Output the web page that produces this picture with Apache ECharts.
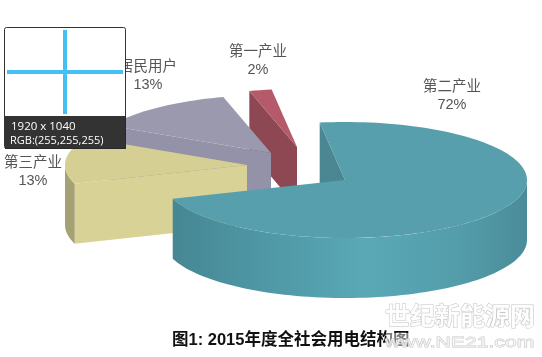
<!DOCTYPE html>
<html><head><meta charset="utf-8">
<style>html,body{margin:0;padding:0;background:#fff}#c{width:542px;height:357px}</style>
<script src="https://cdn.jsdelivr.net/npm/echarts@6/dist/echarts.min.js"></script>
</head><body><div id="c"></div>
<script>
// data: counter-clockwise from the start angle, in paint order (back to front)
const categories = ['第一产业', '居民用户', '第三产业', '第二产业'];
const shares = [2, 13, 13, 72];
const titleText = '图1: 2015年度全社会用电结构图';

// layout (not data)
const START = 98, RX = 182, RY = 58, DEPTH = 60;
const apex = [[297,147],[271,153],[247,165],[345,180]];
const labelAt = [[258,61],[148,76],[33,172],[452,96]];
const palette = [
  {top:'#b55a6b', wall:'#8e4854', arc:'#8e4854'},
  {top:'#9b99ae', wall:'#9492a9', arc:'#9492a9'},
  {top:'#d5cf94', wall:'#d8d296', arc:'#a5a173'},
  {top:'#589fad', wall:'#4a8792', arc:null}
];
const tealSide = {type:'linear',x:0,y:0,x2:1,y2:0,colorStops:[
  {offset:0,color:'#468793'},{offset:.25,color:'#4f97a5'},{offset:.55,color:'#5aa8b6'},
  {offset:.8,color:'#549dab'},{offset:1,color:'#4b8c99'}]};

const total = shares.reduce((a,b)=>a+b,0);
const rad = d=>d*Math.PI/180;
function pt(c,a,dy){return [c[0]+RX*Math.cos(rad(a)), c[1]-RY*Math.sin(rad(a))+(dy||0)];}
function arc(c,a0,a1,dy){const n=Math.max(2,Math.ceil(Math.abs(a1-a0)/2)),r=[];
  for(let i=0;i<=n;i++) r.push(pt(c,a0+(a1-a0)*i/n,dy)); return r;}

function renderItem(params, api){
  const i = params.dataIndex;
  let before = 0; for(let k=0;k<i;k++) before += shares[k];
  const a0 = START + before/total*360, a1 = a0 + api.value(0)/total*360;
  const c = apex[i], col = palette[i], kids = [];
  // radial wall on the counter-clockwise end
  const e = pt(c,a1);
  kids.push({type:'polygon',shape:{points:[c,e,[e[0],e[1]+DEPTH],[c[0],c[1]+DEPTH]]},style:{fill:col.wall}});
  // outer wall: only the part on the front half
  const lo = Math.max(a0,180), hi = Math.min(a1,360);
  if(hi>lo){
    const up = arc(c,lo,hi,0), dn = arc(c,hi,lo,DEPTH);
    kids.push({type:'polygon',shape:{points:up.concat(dn)},style:{fill:col.arc||tealSide}});
  }
  // top face
  kids.push({type:'polygon',shape:{points:[c].concat(arc(c,a0,a1,0))},style:{fill:col.top}});
  // label
  const l = labelAt[i];
  kids.push({type:'text',style:{x:l[0],y:l[1],text:categories[i]+'\n'+api.value(0)+'%',align:'center',verticalAlign:'middle',
    fill:'#555',font:'14.5px "Liberation Sans","Noto Sans CJK SC",sans-serif',lineHeight:18}});
  return {type:'group',children:kids};
}

const FONT = '"Liberation Sans","Noto Sans CJK SC",sans-serif';
const chart = echarts.init(document.getElementById('c'),null,{renderer:'canvas'});
chart.setOption({
  animation:false,
  backgroundColor:'#fff',
  series:[{type:'custom',coordinateSystem:'none',silent:true,z:2,renderItem,
    data:shares.map(v=>[v])}],
  graphic:[
    {type:'text',z:5,left:172,top:332,style:{text:titleText,fill:'#111',font:'bold 16.5px '+FONT}},
    {type:'rect',z:6,shape:{x:386,y:333,width:40,height:16},style:{fill:'rgba(255,255,255,.45)'}},
    {type:'text',z:7,x:385,y:306,style:{text:'世纪新能源网',fill:'rgba(255,255,255,.9)',stroke:'#c4c4c4',lineWidth:1,font:'bold 25px '+FONT,verticalAlign:'top'}},
    {type:'text',z:7,x:385,y:335,scaleX:1.41,style:{text:'www.NE21.com',fill:'rgba(255,255,255,.6)',stroke:'#c8c8c8',lineWidth:.8,font:'15px '+FONT,verticalAlign:'top'}},
    // screenshot-tool magnifier overlay
    {type:'rect',z:10,shape:{x:4.5,y:27.5,width:121,height:121,r:2},style:{fill:'#fff',stroke:'#333',lineWidth:1}},
    {type:'rect',z:11,shape:{x:5,y:116,width:121,height:33},style:{fill:'rgba(40,40,40,.95)'}},
    {type:'rect',z:11,shape:{x:63,y:30,width:4,height:84},style:{fill:'#45c0f5'}},
    {type:'rect',z:11,shape:{x:7,y:70,width:116,height:4},style:{fill:'#45c0f5'}},
    {type:'text',z:12,left:11,top:121,style:{text:'1920 x 1040',fill:'#fff',font:'11.5px "Open Sans",sans-serif'}},
    {type:'text',z:12,left:10,top:135,style:{text:'RGB:(255,255,255)',fill:'#fff',font:'11px "Open Sans",sans-serif'}}
  ]
});
</script></body></html>
